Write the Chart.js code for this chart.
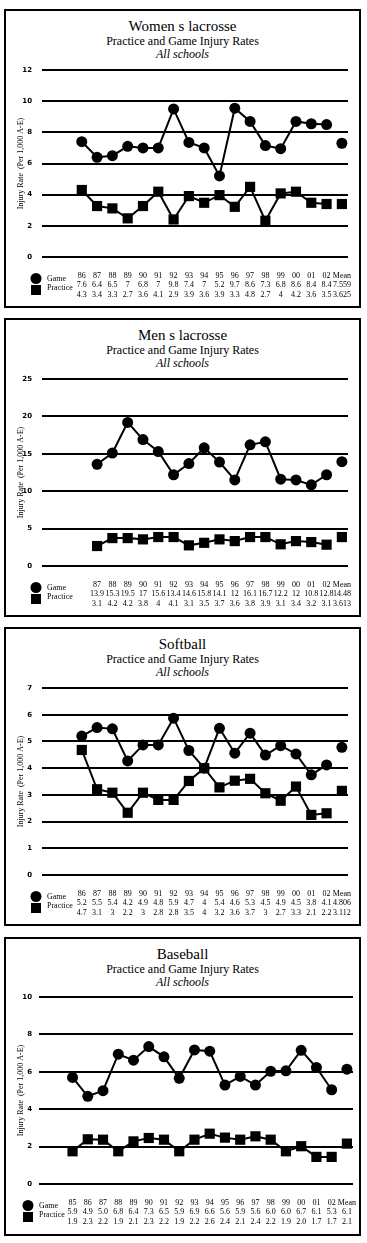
<!DOCTYPE html>
<html>
<head>
<meta charset="utf-8">
<script src="https://cdn.jsdelivr.net/npm/chart.js@4.4.1/dist/chart.umd.min.js"></script>
<style>
  body { margin: 0; background: #fff; width: 367px; height: 1243px; position: relative; overflow: hidden; font-family: "Liberation Serif", "Times New Roman", serif; color: #000; }
  .panel { position: absolute; left: 4px; width: 357px; height: 299px; border: 2px solid #000; box-sizing: border-box; }
  .t { position: absolute; left: 0; right: 0; text-align: center; line-height: 1; white-space: nowrap; }
  .t1 { top: 8px; font-size: 15px; }
  .t2 { top: 24px; font-size: 12px; }
  .t3 { top: 37px; font-size: 12px; font-style: italic; }
  canvas { position: absolute; left: 0; }
</style>
</head>
<body>

<div class="panel" style="top:9px">
  <div class="t t1">Women s lacrosse</div>
  <div class="t t2">Practice and Game Injury Rates</div>
  <div class="t t3">All schools</div>
</div>
<canvas id="wl" width="367" height="292" style="top:9px"></canvas>

<div class="panel" style="top:318px">
  <div class="t t1">Men s lacrosse</div>
  <div class="t t2">Practice and Game Injury Rates</div>
  <div class="t t3">All schools</div>
</div>
<canvas id="ml" width="367" height="292" style="top:318px"></canvas>

<div class="panel" style="top:627px">
  <div class="t t1">Softball</div>
  <div class="t t2">Practice and Game Injury Rates</div>
  <div class="t t3">All schools</div>
</div>
<canvas id="sb" width="367" height="292" style="top:627px"></canvas>

<div class="panel" style="top:937px">
  <div class="t t1">Baseball</div>
  <div class="t t2">Practice and Game Injury Rates</div>
  <div class="t t3">All schools</div>
</div>
<canvas id="bb" width="367" height="292" style="top:936px"></canvas>

<script>
// Women's lacrosse
const wlYears = ['86', '87', '88', '89', '90', '91', '92', '93', '94', '95', '96', '97', '98', '99', '00', '01', '02', 'Mean']
const wlGame = [7.4, 6.4, 6.5, 7.1, 7.0, 7.0, 9.5, 7.35, 7.0, 5.2, 9.55, 8.7, 7.15, 6.95, 8.7, 8.55, 8.5]
const wlGameMean = 7.3
const wlPractice = [4.3, 3.27, 3.12, 2.48, 3.27, 4.19, 2.41, 3.91, 3.48, 3.97, 3.22, 4.5, 2.33, 4.08, 4.19, 3.48, 3.4]
const wlPracticeMean = 3.4
const wlGameTable = ['7.6', '6.4', '6.5', '7', '6.8', '7', '9.8', '7.4', '7', '5.2', '9.7', '8.6', '7.3', '6.8', '8.6', '8.4', '8.4', '7.559']
const wlPracticeTable = ['4.3', '3.4', '3.3', '2.7', '3.6', '4.1', '2.9', '3.9', '3.6', '3.9', '3.3', '4.8', '2.7', '4', '4.2', '3.6', '3.5', '3.625']

// Men's lacrosse (no 1986 column)
const mlYears = ['87', '88', '89', '90', '91', '92', '93', '94', '95', '96', '97', '98', '99', '00', '01', '02', 'Mean']
const mlGame = [13.6, 15.1, 19.2, 16.9, 15.3, 12.2, 13.7, 15.8, 13.9, 11.5, 16.2, 16.6, 11.6, 11.5, 10.85, 12.2]
const mlGameMean = 13.95
const mlPractice = [2.67, 3.73, 3.73, 3.56, 3.87, 3.87, 2.76, 3.1, 3.56, 3.33, 3.87, 3.87, 2.9, 3.33, 3.2, 2.85]
const mlPracticeMean = 3.87
const mlGameTable = ['13.9', '15.3', '19.5', '17', '15.6', '13.4', '14.6', '15.8', '14.1', '12', '16.1', '16.7', '12.2', '12', '10.8', '12.8', '14.48']
const mlPracticeTable = ['3.1', '4.2', '4.2', '3.8', '4', '4.1', '3.1', '3.5', '3.7', '3.6', '3.8', '3.9', '3.1', '3.4', '3.2', '3.1', '3.613']

// Softball
const sbYears = ['86', '87', '88', '89', '90', '91', '92', '93', '94', '95', '96', '97', '98', '99', '00', '01', '02', 'Mean']
const sbGame = [5.2, 5.52, 5.47, 4.27, 4.87, 4.87, 5.87, 4.66, 4.0, 5.49, 4.56, 5.31, 4.49, 4.84, 4.53, 3.75, 4.12]
const sbGameMean = 4.78
const sbPractice = [4.68, 3.21, 3.08, 2.33, 3.08, 2.81, 2.81, 3.52, 4.0, 3.28, 3.53, 3.6, 3.06, 2.78, 3.31, 2.25, 2.31]
const sbPracticeMean = 3.15
const sbGameTable = ['5.2', '5.5', '5.4', '4.2', '4.9', '4.8', '5.9', '4.7', '4', '5.4', '4.6', '5.3', '4.5', '4.9', '4.5', '3.8', '4.1', '4.806']
const sbPracticeTable = ['4.7', '3.1', '3', '2.2', '3', '2.8', '2.8', '3.5', '4', '3.2', '3.6', '3.7', '3', '2.7', '3.3', '2.1', '2.2', '3.112']

// Baseball
const bbYears = ['85', '86', '87', '88', '89', '90', '91', '92', '93', '94', '95', '96', '97', '98', '99', '00', '01', '02', 'Mean']
const bbGame = [5.7, 4.69, 4.99, 6.94, 6.62, 7.35, 6.8, 5.65, 7.17, 7.1, 5.29, 5.75, 5.29, 6.03, 6.05, 7.15, 6.23, 5.04]
const bbGameMean = 6.14
const bbPractice = [1.75, 2.39, 2.37, 1.75, 2.28, 2.46, 2.37, 1.75, 2.37, 2.69, 2.48, 2.37, 2.55, 2.37, 1.75, 2.02, 1.45, 1.45]
const bbPracticeMean = 2.16
const bbGameTable = ['5.9', '4.9', '5.0', '6.8', '6.4', '7.3', '6.5', '5.9', '6.9', '6.6', '5.6', '5.9', '5.6', '6.0', '6.0', '6.7', '6.1', '5.3', '6.1']
const bbPracticeTable = ['1.9', '2.3', '2.2', '1.9', '2.1', '2.3', '2.2', '1.9', '2.2', '2.6', '2.4', '2.1', '2.4', '2.2', '1.9', '2.0', '1.7', '1.7', '2.1']

const SERIF = '"Liberation Serif", "Times New Roman", serif'

// circle / square key drawn left of the table rows
const tableKey = {
  id: 'tableKey',
  afterDraw(chart, args, opts) {
    const { ctx, chartArea } = chart
    const b = chartArea.bottom
    ctx.save()
    ctx.fillStyle = '#000'
    ctx.beginPath()
    ctx.arc(opts.x, b + 21.5, 5.5, 0, Math.PI * 2)
    ctx.fill()
    ctx.fillRect(opts.x - 5, b + 28, 10, 10)
    ctx.font = '8px ' + SERIF
    ctx.textBaseline = 'middle'
    ctx.fillText('Game', opts.x + 11, b + 21.5)
    ctx.fillText('Practice', opts.x + 11, b + 31)
    ctx.restore()
  }
}

function toPoints(values, start) {
  return values.map((v, i) => ({ x: start + i, y: v }))
}

function drawPanel(id, p) {
  const meanIdx = p.start + p.game.length
  const gameTable = p.gameTable
  const practiceTable = p.practiceTable
  const years = p.years
  const circle = { pointStyle: 'circle', pointRadius: 5.5, pointBackgroundColor: '#000', pointBorderWidth: 0 }
  const square = { pointStyle: 'rect', pointRadius: 7.2, pointBackgroundColor: '#000', pointBorderWidth: 0 }

  new Chart(document.getElementById(id), {
    type: 'line',
    data: {
      datasets: [
        { data: toPoints(p.game, p.start), borderColor: '#000', borderWidth: 2, tension: 0, clip: false, ...circle },
        { data: toPoints(p.practice, p.start), borderColor: '#000', borderWidth: 2, tension: 0, clip: false, ...square },
        { data: [{ x: meanIdx, y: p.gameMean }], showLine: false, clip: false, ...circle },
        { data: [{ x: meanIdx, y: p.practiceMean }], showLine: false, clip: false, ...square }
      ]
    },
    options: {
      responsive: false,
      animation: false,
      devicePixelRatio: 1,
      layout: { padding: { top: p.top, right: 367 - p.right, bottom: 4, left: 0 } },
      plugins: {
        legend: { display: false },
        tooltip: { enabled: false },
        tableKey: { x: p.keyX }
      },
      scales: {
        x: {
          type: 'linear',
          bounds: 'data',
          min: p.xMin,
          max: p.xMax,
          grid: { display: false },
          border: { display: false },
          afterBuildTicks: axis => { axis.ticks = years.map((y, i) => ({ value: p.start + i })) },
          afterFit: scale => { scale.height = 40 },
          ticks: {
            autoSkip: false,
            maxRotation: 0,
            minRotation: 0,
            padding: 6,
            color: '#000',
            font: { family: SERIF, size: 8, lineHeight: 1.2 },
            callback: (v, i) => [years[i], gameTable[i], practiceTable[i]]
          }
        },
        y: {
          min: 0,
          max: p.yMax,
          afterFit: scale => { scale.width = p.left },
          grid: { color: '#000', lineWidth: 2, drawTicks: false },
          border: { display: false },
          ticks: {
            stepSize: p.step,
            padding: p.left - 32,
            color: '#000',
            font: { family: '"DejaVu Sans", sans-serif', size: 7, weight: 'bold' }
          },
          title: {
            display: true,
            text: 'Injury Rate  (Per 1,000 A-E)',
            color: '#000',
            padding: { top: 16, bottom: 0 },
            font: { family: SERIF, size: 8 }
          }
        }
      }
    },
    plugins: [tableKey]
  })
}

drawPanel('wl', {
  years: wlYears, game: wlGame, practice: wlPractice, gameMean: wlGameMean, practiceMean: wlPracticeMean,
  gameTable: wlGameTable, practiceTable: wlPracticeTable,
  start: 0, xMin: -2.6, xMax: 17.4, yMax: 12, step: 2, top: 61, left: 42, right: 348, keyX: 36
})

drawPanel('ml', {
  years: mlYears, game: mlGame, practice: mlPractice, gameMean: mlGameMean, practiceMean: mlPracticeMean,
  gameTable: mlGameTable, practiceTable: mlPracticeTable,
  start: 1, xMin: -2.6, xMax: 17.4, yMax: 25, step: 5, top: 61, left: 42, right: 348, keyX: 36
})

drawPanel('sb', {
  years: sbYears, game: sbGame, practice: sbPractice, gameMean: sbGameMean, practiceMean: sbPracticeMean,
  gameTable: sbGameTable, practiceTable: sbPracticeTable,
  start: 0, xMin: -2.6, xMax: 17.4, yMax: 7, step: 1, top: 61, left: 42, right: 348, keyX: 36
})

drawPanel('bb', {
  years: bbYears, game: bbGame, practice: bbPractice, gameMean: bbGameMean, practiceMean: bbPracticeMean,
  gameTable: bbGameTable, practiceTable: bbPracticeTable,
  start: 0, xMin: -2.2, xMax: 18.4, yMax: 10, step: 2, top: 61, left: 39, right: 353, keyX: 28
})
</script>
</body>
</html>
